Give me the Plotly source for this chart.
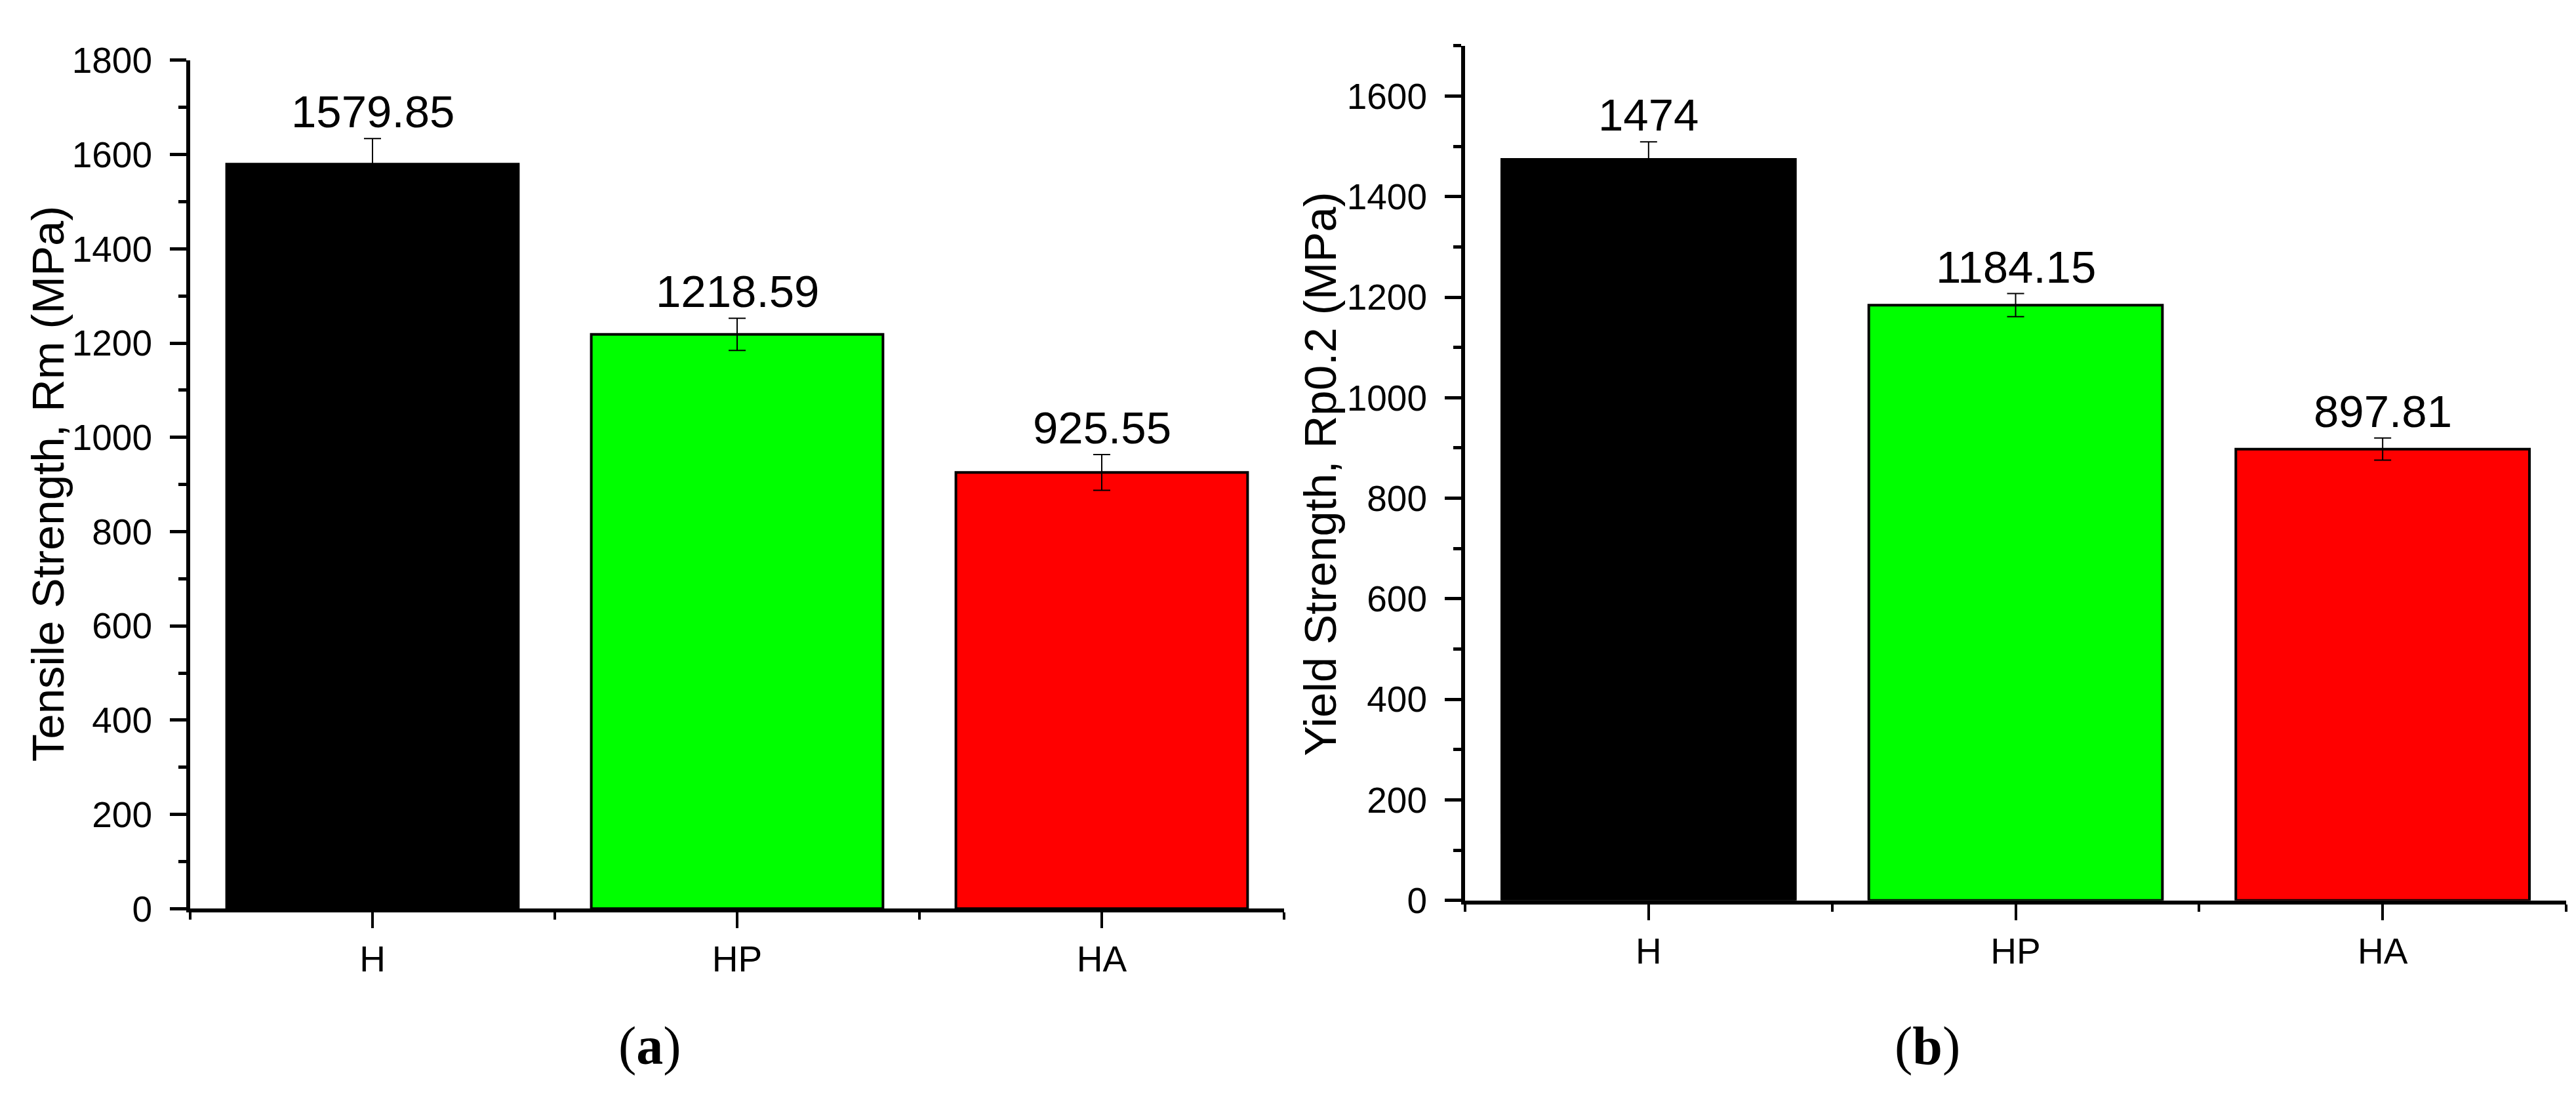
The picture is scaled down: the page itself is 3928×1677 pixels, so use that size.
import plotly.graph_objects as go

# sample groups
groups = ["H", "HP", "HA"]
bar_colors = ["#000000", "#00ff00", "#ff0000"]

# panel (a): tensile strength
tensile = [1579.85, 1218.59, 925.55]
tensile_err = [54, 34, 38]

# panel (b): yield strength
yield_str = [1474, 1184.15, 897.81]
yield_err = [35, 23, 22]

W, H = 3928, 1677
FONT = "Liberation Sans, Arial, sans-serif"

fig = go.Figure()
xpos = list(range(len(groups)))

panels = [
    dict(vals=tensile, errs=tensile_err, xa="x", ya="y"),
    dict(vals=yield_str, errs=yield_err, xa="x2", ya="y2"),
]

for p in panels:
    fig.add_trace(go.Bar(
        x=xpos, y=p["vals"], width=0.8,
        marker=dict(color=bar_colors, line=dict(color="black", width=4)),
        error_y=dict(type="data", array=p["errs"], visible=True,
                     color="black", thickness=2, width=13),
        xaxis=p["xa"], yaxis=p["ya"], showlegend=False, hoverinfo="skip",
    ))
    # value labels above the error bars
    for x, v, e in zip(xpos, p["vals"], p["errs"]):
        fig.add_annotation(
            x=x, y=v + e, xref=p["xa"], yref=p["ya"], text=f"{v:g}",
            showarrow=False, xanchor="center", yanchor="bottom", yshift=0,
            font=dict(family=FONT, size=69, color="black"),
        )

xaxis_style = dict(
    range=[-0.5, len(groups) - 0.5], tickvals=xpos, ticktext=groups,
    showline=True, linewidth=6, linecolor="black", mirror=False,
    ticks="outside", ticklen=24, tickwidth=4, tickcolor="black",
    minor=dict(ticks="outside", ticklen=11, tickwidth=4, tickcolor="black",
               tick0=0.5, dtick=1),
    showgrid=False, zeroline=False,
    tickfont=dict(family=FONT, size=55, color="black"),
)
yaxis_style = dict(
    showline=True, linewidth=6, linecolor="black",
    ticks="outside", ticklen=25, tickwidth=5, tickcolor="black",
    minor=dict(ticks="outside", ticklen=12, tickwidth=5, tickcolor="black", dtick=100),
    dtick=200, showgrid=False, zeroline=False, ticklabelstandoff=16,
    tickfont=dict(family=FONT, size=55, color="black"),
)

fig.update_layout(
    width=W, height=H,
    margin=dict(l=0, r=0, t=0, b=0),
    paper_bgcolor="white", plot_bgcolor="white",
    xaxis=dict(domain=[282 / W, 1950 / W], anchor="y", **xaxis_style),
    yaxis=dict(domain=[1 - 1398 / H, 1 - 55 / H], anchor="x",
               range=[0, 1800], **yaxis_style),
    xaxis2=dict(domain=[2226 / W, 3905 / W], anchor="y2", **xaxis_style),
    yaxis2=dict(domain=[1 - 1385 / H, 1 - 32 / H], anchor="x2",
                range=[0, 1700], **yaxis_style),
)

# y-axis titles
fig.add_annotation(x=65 / W, y=1 - 726 / H, xref="paper", yref="paper",
                   xanchor="center", yanchor="middle",
                   text="Tensile Strength, Rm (MPa)", textangle=-90, showarrow=False,
                   font=dict(family=FONT, size=69, color="black"))
fig.add_annotation(x=2006 / W, y=1 - 710 / H, xref="paper", yref="paper",
                   xanchor="center", yanchor="middle",
                   text="Yield Strength, Rp0.2 (MPa)", textangle=-90, showarrow=False,
                   font=dict(family=FONT, size=69, color="black"))

# panel letters
for letter, px_x in [("a", 983), ("b", 2931)]:
    fig.add_annotation(x=px_x / W, y=1 - 1615 / H, xref="paper", yref="paper",
                       xanchor="center", yanchor="middle",
                       text=f"(<b>{letter}</b>)", showarrow=False,
                       font=dict(family="Liberation Serif, Times New Roman, serif",
                                 size=82, color="black"))

fig.write_html("out.html")
